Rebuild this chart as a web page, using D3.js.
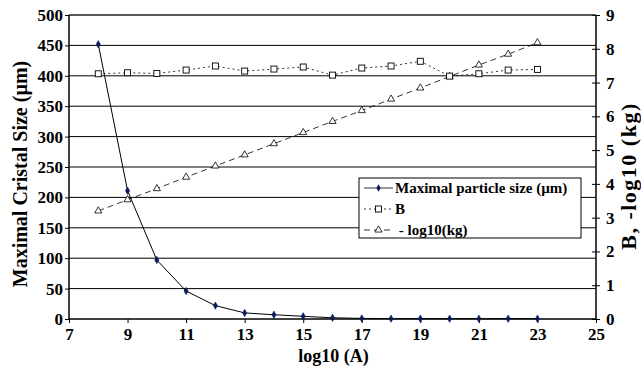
<!DOCTYPE html>
<html>
<head>
<meta charset="utf-8">
<script src="https://cdn.jsdelivr.net/npm/d3@7"></script>
<style>
body { margin: 0; background: #fff; }
</style>
</head>
<body>
<script>
//chart data
var logA = [8, 9, 10, 11, 12, 13, 14, 15, 16, 17, 18, 19, 20, 21, 22, 23];
var maxSize = [452, 211, 97, 46, 22, 10, 7, 4.4, 2, 1, 0.6, 0.5, 0.5, 0.5, 0.5, 0.5];
var bValues = [7.26, 7.29, 7.27, 7.37, 7.49, 7.34, 7.40, 7.46, 7.22, 7.43, 7.49, 7.63, 7.19, 7.26, 7.37, 7.39];
var negLogKg = [3.2, 3.53, 3.86, 4.2, 4.53, 4.86, 5.19, 5.52, 5.85, 6.17, 6.51, 6.84, 7.18, 7.52, 7.84, 8.18];
var xTicks = [7, 9, 11, 13, 15, 17, 19, 21, 23, 25];
var leftTicks = [0, 50, 100, 150, 200, 250, 300, 350, 400, 450, 500];
var rightTicks = [0, 1, 2, 3, 4, 5, 6, 7, 8, 9];
var legendLabels = ["Maximal particle size (\u00b5m)", "B", " - log10(kg)"];

var width = 641, height = 367;
var pLeft = 69, pRight = 596, pTop = 15, pBottom = 319;
var serif = "'Liberation Serif', 'Times New Roman', serif";

var svg = d3.select("body").append("svg")
    .attr("width", width)
    .attr("height", height);

var x = d3.scaleLinear().domain([7, 25]).range([pLeft, pRight]);
var yL = d3.scaleLinear().domain([0, 500]).range([pBottom, pTop]);
var yR = d3.scaleLinear().domain([0, 9]).range([pBottom, pTop]);

//gridlines (not snapped, like the scaled original)
svg.selectAll(".grid")
    .data(leftTicks.slice(1, -1))
    .enter().append("line")
    .attr("x1", pLeft).attr("x2", pRight)
    .attr("y1", function(d){ return yL(d); })
    .attr("y2", function(d){ return yL(d); })
    .attr("stroke", "#000")
    .attr("stroke-width", 1);

//axes
var xAxis = svg.append("g")
    .attr("transform", "translate(0," + pBottom + ")")
    .call(d3.axisBottom(x).tickValues(xTicks).tickSize(4).tickPadding(5));
var lAxis = svg.append("g")
    .attr("transform", "translate(" + pLeft + ",0)")
    .call(d3.axisLeft(yL).tickValues(leftTicks).tickSize(4).tickPadding(2));
var rAxis = svg.append("g")
    .attr("transform", "translate(" + pRight + ",0)")
    .call(d3.axisRight(yR).tickValues(rightTicks).tickSize(4).tickPadding(6));
rAxis.selectAll(".tick line").attr("x1", -4);

[xAxis, lAxis, rAxis].forEach(function(a){
    a.attr("font-family", serif).attr("font-size", 17).attr("font-weight", "bold");
    a.selectAll("text").attr("fill", "#000");
    a.selectAll("line").attr("stroke", "#000");
    a.select(".domain").attr("stroke", "#000").attr("stroke-width", 1.5);
});
xAxis.select(".domain").attr("d", "M" + pLeft + ",0H" + pRight);
lAxis.select(".domain").attr("d", "M0," + pBottom + "V" + pTop);
rAxis.select(".domain").attr("d", "M0," + pBottom + "V" + pTop);

//top border
svg.append("line")
    .attr("x1", pLeft).attr("x2", pRight)
    .attr("y1", pTop).attr("y2", pTop)
    .attr("stroke", "#222").attr("stroke-width", 1.5);

//axis titles
var titles = svg.append("g")
    .attr("font-family", serif).attr("font-weight", "bold")
    .attr("text-anchor", "middle");
titles.append("text")
    .attr("x", (pLeft + pRight) / 2 + 1).attr("y", 362)
    .attr("font-size", 18)
    .text("log10 (A)");
titles.append("text")
    .attr("transform", "translate(27,174) rotate(-90)")
    .attr("font-size", 20)
    .text("Maximal Cristal Size (\u00b5m)");
titles.append("text")
    .attr("transform", "translate(636,176) rotate(-90)")
    .attr("font-size", 22)
    .attr("letter-spacing", 1.5)
    .text("B, -log10 (kg)");

//series
var lineMax = d3.line()
    .x(function(d, i){ return x(logA[i]); })
    .y(function(d){ return yL(d); });
var lineR = d3.line()
    .x(function(d, i){ return x(logA[i]); })
    .y(function(d){ return yR(d); });

svg.append("path")
    .datum(negLogKg)
    .attr("d", lineR)
    .attr("fill", "none").attr("stroke", "#000")
    .attr("stroke-width", 0.8).attr("stroke-dasharray", "6,4");
svg.selectAll(".tri")
    .data(negLogKg).enter().append("path")
    .attr("d", d3.symbol().type(d3.symbolTriangle).size(22))
    .attr("transform", function(d, i){ return "translate(" + x(logA[i]) + "," + yR(d) + ")"; })
    .attr("fill", "#fff").attr("stroke", "#000").attr("stroke-width", 0.8);

svg.append("path")
    .datum(bValues)
    .attr("d", lineR)
    .attr("fill", "none").attr("stroke", "#000")
    .attr("stroke-width", 0.8).attr("stroke-dasharray", "2,3");
svg.selectAll(".sq")
    .data(bValues).enter().append("rect")
    .attr("x", function(d, i){ return x(logA[i]) - 3; })
    .attr("y", function(d){ return yR(d) - 3; })
    .attr("width", 6).attr("height", 6)
    .attr("fill", "#fff").attr("stroke", "#000").attr("stroke-width", 0.9);

svg.append("path")
    .datum(maxSize)
    .attr("d", lineMax)
    .attr("fill", "none").attr("stroke", "#000").attr("stroke-width", 1);
svg.selectAll(".dia")
    .data(maxSize).enter().append("path")
    .attr("d", d3.symbol().type(d3.symbolDiamond).size(16))
    .attr("transform", function(d, i){ return "translate(" + x(logA[i]) + "," + yL(d) + ")"; })
    .attr("fill", "#0b1a5c").attr("stroke", "#0b1a5c").attr("stroke-width", 0.5);

//legend
var lg = svg.append("g").attr("transform", "translate(359,178)")
    .attr("font-family", serif).attr("font-size", 15).attr("font-weight", "bold");
lg.append("rect")
    .attr("width", 222).attr("height", 60)
    .attr("fill", "#fff").attr("stroke", "#000").attr("stroke-width", 1);
var dashes = [null, "2,3", "6,4"];
legendLabels.forEach(function(lab, i){
    var yy = 10 + i * 21;
    lg.append("line")
        .attr("x1", 5).attr("x2", 34).attr("y1", yy).attr("y2", yy)
        .attr("stroke", "#000").attr("stroke-width", 0.8)
        .attr("stroke-dasharray", dashes[i]);
    if (i === 0) {
        lg.append("path").attr("d", d3.symbol().type(d3.symbolDiamond).size(16))
            .attr("transform", "translate(19.5," + yy + ")").attr("fill", "#0b1a5c");
    } else if (i === 1) {
        lg.append("rect").attr("x", 16.5).attr("y", yy - 3).attr("width", 6).attr("height", 6)
            .attr("fill", "#fff").attr("stroke", "#000").attr("stroke-width", 0.9);
    } else {
        lg.append("path").attr("d", d3.symbol().type(d3.symbolTriangle).size(22))
            .attr("transform", "translate(19.5," + yy + ")")
            .attr("fill", "#fff").attr("stroke", "#000").attr("stroke-width", 0.8);
    }
    lg.append("text")
        .attr("x", 36).attr("y", yy + 5)
        .style("white-space", "pre")
        .text(lab);
});
</script>
</body>
</html>
